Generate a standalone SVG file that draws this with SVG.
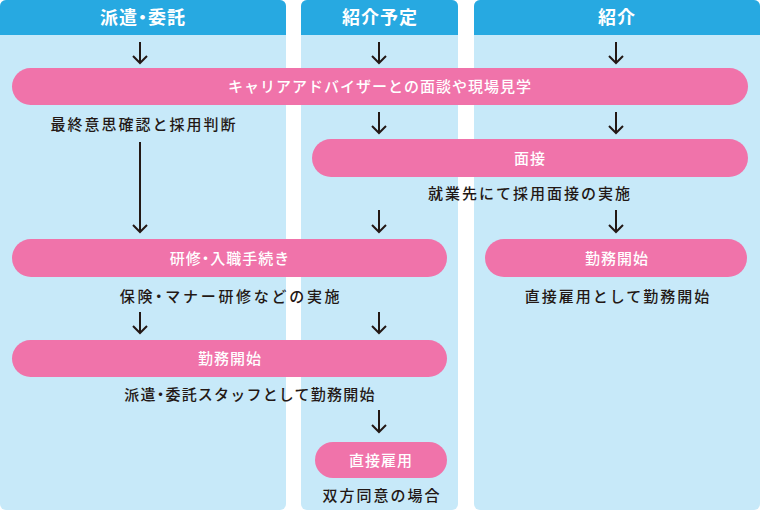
<svg xmlns="http://www.w3.org/2000/svg" width="760" height="513" viewBox="0 0 760 513">
<defs>
<style>
.col{fill:#c7e9f9}
.hdr{fill:#27a9e1}
.pill{fill:#f073aa}
.ht{font-family:"Noto Sans CJK JP",sans-serif;font-size:18px;font-weight:700;fill:#fff;text-anchor:middle;letter-spacing:1px}
.pt{font-family:"Noto Sans CJK JP",sans-serif;font-size:15px;font-weight:500;fill:#fff;text-anchor:middle;letter-spacing:1px}
.lt{font-family:"Noto Sans CJK JP",sans-serif;font-size:15px;font-weight:500;fill:#231815;text-anchor:middle;letter-spacing:2px}
.dot{font-feature-settings:"palt"}
.ar{stroke:#231815;stroke-width:2;fill:none}
</style>
</defs>
<g id="columns">
<g id="col-haken">
<rect class="col" x="0" y="0" width="286" height="510" rx="6"/>
<path class="hdr" d="M0,6 A6,6 0 0 1 6,0 H280 A6,6 0 0 1 286,6 V35 H0 Z"/>
<text class="ht" x="143" y="24">派遣<tspan class="dot">・</tspan>委託</text>
</g>
<g id="col-shokaiyotei">
<rect class="col" x="301" y="0" width="157" height="510" rx="6"/>
<path class="hdr" d="M301,6 A6,6 0 0 1 307,0 H452 A6,6 0 0 1 458,6 V35 H301 Z"/>
<text class="ht" x="380" y="24">紹介予定</text>
</g>
<g id="col-shokai">
<rect class="col" x="474" y="0" width="286" height="510" rx="6"/>
<path class="hdr" d="M474,6 A6,6 0 0 1 480,0 H754 A6,6 0 0 1 760,6 V35 H474 Z"/>
<text class="ht" x="617" y="24">紹介</text>
</g>
</g>
<g id="connectors">
<path class="ar" d="M140,42 V63 M133,56 L140,63 L147,56"/>
<path class="ar" d="M379,42 V63 M372,56 L379,63 L386,56"/>
<path class="ar" d="M616,42 V63 M609,56 L616,63 L623,56"/>
<path class="ar" d="M140,142 V232 M133,225 L140,232 L147,225"/>
<path class="ar" d="M379,112 V133 M372,126 L379,133 L386,126"/>
<path class="ar" d="M616,112 V133 M609,126 L616,133 L623,126"/>
<path class="ar" d="M379,210 V232 M372,225 L379,232 L386,225"/>
<path class="ar" d="M616,210 V232 M609,225 L616,232 L623,225"/>
<path class="ar" d="M140,312 V333 M133,326 L140,333 L147,326"/>
<path class="ar" d="M379,312 V333 M372,326 L379,333 L386,326"/>
<path class="ar" d="M379,410 V432 M372,425 L379,432 L386,425"/>
</g>
<g id="node-mendan">
<rect class="pill" x="12" y="68" width="736" height="37" rx="18.5"/>
<text class="pt" x="380" y="92">キャリアアドバイザーとの面談や現場見学</text>
</g>
<text class="lt" x="144" y="130">最終意思確認と採用判断</text>
<g id="node-mensetsu">
<rect class="pill" x="312" y="139" width="436" height="38" rx="19"/>
<text class="pt" x="530" y="164">面接</text>
</g>
<text class="lt" x="530" y="199">就業先にて採用面接の実施</text>
<g id="node-kenshu">
<rect class="pill" x="12" y="239" width="435" height="38" rx="19"/>
<text class="pt" x="230" y="264">研修<tspan class="dot">・</tspan>入職手続き</text>
</g>
<text class="lt" x="231" y="302" style="letter-spacing:2.7px">保険<tspan class="dot">・</tspan>マナー研修などの実施</text>
<g id="node-kinmu-shokai">
<rect class="pill" x="485" y="239" width="262" height="38" rx="19"/>
<text class="pt" x="617" y="264">勤務開始</text>
</g>
<text class="lt" x="618" y="302">直接雇用として勤務開始</text>
<g id="node-kinmu">
<rect class="pill" x="12" y="340" width="435" height="37" rx="18.5"/>
<text class="pt" x="230" y="364">勤務開始</text>
</g>
<text class="lt" x="250" y="400" style="letter-spacing:1.2px">派遣<tspan class="dot">・</tspan>委託スタッフとして勤務開始</text>
<g id="node-chokusetsu">
<rect class="pill" x="315" y="442" width="132" height="36" rx="18"/>
<text class="pt" x="381" y="466">直接雇用</text>
</g>
<text class="lt" x="382" y="501">双方同意の場合</text>
</svg>
